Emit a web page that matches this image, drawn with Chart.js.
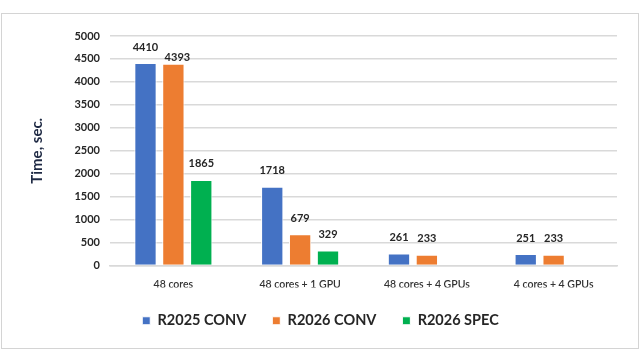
<!DOCTYPE html>
<html>
<head>
<meta charset="utf-8">
<script src="https://cdn.jsdelivr.net/npm/chart.js@4/dist/chart.umd.min.js"></script>
<style>
  html, body { margin: 0; padding: 0; background: #fff; }
  #wrap { position: relative; width: 640px; height: 360px; }
  #frame { position: absolute; left: 1px; top: 13px; width: 636px; height: 334px; border: 1px solid #d4d4d4; pointer-events: none; }
  canvas { position: absolute; left: 0; top: 0; }
</style>
</head>
<body>
<div id="wrap">
  <canvas id="myChart" width="640" height="360"></canvas>
  <div id="frame"></div>
</div>
<script>
var categories = ['48 cores', '48 cores + 1 GPU', '48 cores + 4 GPUs', '4 cores + 4 GPUs'];
var r2025conv = [4410, 1718, 261, 251];
var r2026conv = [4393, 679, 233, 233];
var r2026spec = [1865, 329, null, null];
var yTicks = [0, 500, 1000, 1500, 2000, 2500, 3000, 3500, 4000, 4500, 5000];

var FONT = 'Lato, "Open Sans", sans-serif';

// value labels above each bar, nudged down when they would collide
var barLabels = {
    id: 'barLabels',
    afterDatasetsDraw: function(chart) {
        var ctx = chart.ctx;
        ctx.save();
        ctx.font = 'bold 11px ' + FONT;
        ctx.fillStyle = '#262626';
        ctx.textAlign = 'center';
        ctx.textBaseline = 'middle';
        var placed = [];
        chart.data.datasets.forEach(function(ds, i) {
            var meta = chart.getDatasetMeta(i);
            meta.data.forEach(function(bar, j) {
                var v = ds.data[j];
                if (v === null || v === undefined) return;
                var txt = String(v);
                var w = ctx.measureText(txt).width;
                var x = bar.x, y = bar.y - 16;
                placed.forEach(function(p) {
                    if (Math.abs(p.x - x) < (p.w + w) / 2 + 4 && Math.abs(p.y - y) < 10) {
                        y = p.y + 10;
                        x += 4;
                    }
                });
                placed.push({ x: x, y: y, w: w });
                ctx.fillText(txt, x, y);
            });
        });
        ctx.restore();
    }
};

var canvas = document.getElementById('myChart').getContext('2d');
var myChart = new Chart(canvas, {
    type: 'bar',
    data: {
        labels: categories,
        datasets: [
            { label: 'R2025 CONV', data: r2025conv, backgroundColor: '#4472C4', borderColor: '#ffffff', borderWidth: 1 },
            { label: 'R2026 CONV', data: r2026conv, backgroundColor: '#ED7D31', borderColor: '#ffffff', borderWidth: 1 },
            { label: 'R2026 SPEC', data: r2026spec, backgroundColor: '#00B050', borderColor: '#ffffff', borderWidth: 1 }
        ]
    },
    options: {
        responsive: false,
        animation: false,
        layout: { padding: { top: 36, right: 23, bottom: 22, left: 24 } },
        datasets: { bar: { categoryPercentage: 0.66, barPercentage: 0.8 } },
        plugins: {
            legend: {
                position: 'bottom',
                labels: {
                    font: { family: FONT, size: 14.5, weight: 'bold' },
                    color: '#262626',
                    boxWidth: 8,
                    boxHeight: 8,
                    padding: 26
                }
            },
            tooltip: { enabled: false }
        },
        scales: {
            x: {
                grid: { display: false },
                border: { color: '#d9d9d9', width: 1.5 },
                ticks: { font: { family: FONT, size: 10.5, weight: '600' }, color: '#333333', padding: 5 },
                afterFit: function(scale) { scale.height = 22; }
            },
            y: {
                min: 0,
                max: 5000,
                afterBuildTicks: function(scale) {
                    scale.ticks = yTicks.map(function(v) { return { value: v }; });
                },
                grid: { color: '#d9d9d9', lineWidth: 1.5, drawTicks: false },
                border: { display: false },
                ticks: {
                    font: { family: FONT, size: 11, weight: 'bold' },
                    color: '#262626',
                    padding: 10,
                    callback: function(value) { return String(value); }
                },
                title: {
                    display: true,
                    text: 'Time, sec.',
                    font: { family: FONT, size: 15, weight: 'bold' },
                    color: '#1f2a44',
                    padding: { bottom: 18 }
                },
                afterFit: function(scale) { scale.width = 86; }
            }
        }
    },
    plugins: [barLabels]
});
</script>
</body>
</html>
